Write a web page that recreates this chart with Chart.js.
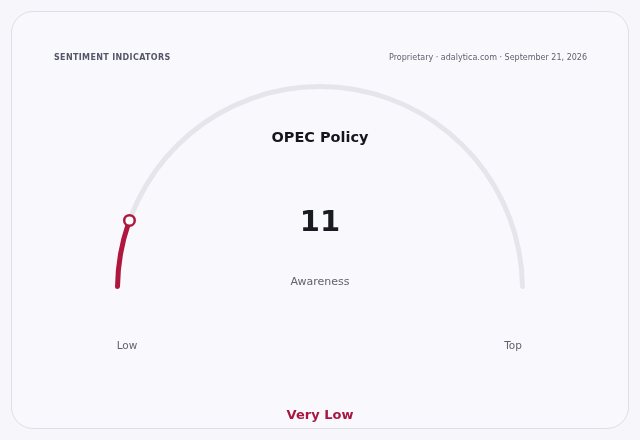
<!DOCTYPE html>
<html>
<head>
<meta charset="utf-8">
<script src="https://cdn.jsdelivr.net/npm/chart.js@4/dist/chart.umd.min.js"></script>
<style>
  html, body { margin: 0; padding: 0; background: #f7f7fb; }
  body { width: 640px; height: 440px; position: relative; overflow: hidden; font-family: "DejaVu Sans", sans-serif; }
  .card { position: absolute; left: 11px; top: 11px; width: 616px; height: 416px; border: 1px solid #dedee8; border-radius: 22px; background: #f9f9fd; }
  #gauge { position: absolute; left: 0; top: 0; }
  .txt { position: absolute; white-space: nowrap; line-height: 1; }
  .kicker { left: 54px; top: 54px; font-size: 8px; font-weight: bold; letter-spacing: 0.35px; color: #555568; }
  .source { right: 53px; top: 54px; font-size: 8px; color: #5f5f6e; }
  .center { transform: translate(-50%, -50%); }
</style>
</head>
<body>
<div class="card"></div>
<canvas id="gauge" width="640" height="440"></canvas>
<div class="txt kicker">SENTIMENT INDICATORS</div>
<div class="txt source">Proprietary · adalytica.com · September 21, 2026</div>
<div class="txt center" id="title" style="left:320px;top:137px;font-size:14.5px;font-weight:bold;color:#15151c;"></div>
<div class="txt center" id="valueText" style="left:320px;top:221px;font-size:29px;font-weight:bold;color:#1a1a22;"></div>
<div class="txt center" id="metric" style="left:320px;top:281px;font-size:11px;color:#62626e;"></div>
<div class="txt center" id="lowLabel" style="left:127px;top:345px;font-size:10.5px;color:#62626e;"></div>
<div class="txt center" id="highLabel" style="left:513px;top:345px;font-size:10.5px;color:#62626e;"></div>
<div class="txt center" id="band" style="left:320px;top:414px;font-size:13px;font-weight:bold;color:#a8173f;"></div>
<script>
// gauge reading
const gaugeTitle = 'OPEC Policy';
const gaugeMetric = 'Awareness';
const gaugeValue = [11];
const gaugeMax = [100];
const scaleLabels = ['Low', 'Top'];
const bandLabel = ['Very Low'];

const valueColor = '#b0173f';
const trackColor = '#e5e5eb';

document.getElementById('title').textContent = gaugeTitle;
document.getElementById('valueText').textContent = gaugeValue[0];
document.getElementById('metric').textContent = gaugeMetric;
document.getElementById('lowLabel').textContent = scaleLabels[0];
document.getElementById('highLabel').textContent = scaleLabels[1];
document.getElementById('band').textContent = bandLabel[0];

// little ring at the tip of the value arc
const tipMarker = {
  id: 'tipMarker',
  afterDatasetsDraw(chart) {
    const arc = chart.getDatasetMeta(0).data[0];
    const p = arc.getProps(['x', 'y', 'endAngle', 'innerRadius', 'outerRadius'], true);
    const r = (p.innerRadius + p.outerRadius) / 2;
    const ctx = chart.ctx;
    ctx.save();
    ctx.beginPath();
    ctx.arc(p.x + r * Math.cos(p.endAngle), p.y + r * Math.sin(p.endAngle), 5.25, 0, Math.PI * 2);
    ctx.fillStyle = '#ffffff';
    ctx.fill();
    ctx.lineWidth = 2.5;
    ctx.strokeStyle = valueColor;
    ctx.stroke();
    ctx.restore();
  }
};

const ctx = document.getElementById('gauge').getContext('2d');
new Chart(ctx, {
  type: 'doughnut',
  data: {
    labels: ['value', 'rest'],
    datasets: [{
      data: [gaugeValue[0], gaugeMax[0] - gaugeValue[0]],
      backgroundColor: [valueColor, trackColor],
      borderWidth: 0,
      borderRadius: 3
    }]
  },
  options: {
    responsive: false,
    animation: false,
    events: [],
    rotation: -90,
    circumference: 180,
    radius: 205,
    cutout: '97.56%',
    layout: { padding: { top: 60, bottom: 127, left: 0, right: 0 } },
    plugins: {
      legend: { display: false },
      tooltip: { enabled: false }
    }
  },
  plugins: [tipMarker]
});
</script>
</body>
</html>
